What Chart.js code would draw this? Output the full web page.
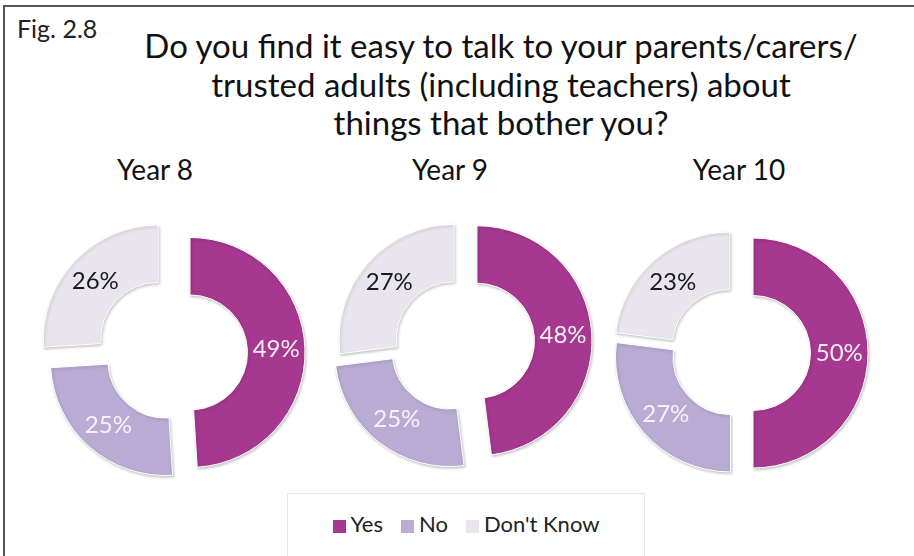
<!DOCTYPE html>
<html>
<head>
<meta charset="utf-8">
<script src="https://cdn.jsdelivr.net/npm/chart.js@4.4.1/dist/chart.umd.min.js"></script>
<style>
  html, body { margin: 0; padding: 0; background: #fff; }
  #page { position: relative; width: 914px; height: 556px; overflow: hidden;
          font-family: Lato, "Open Sans", sans-serif; color: #111; }
  #frame { position: absolute; left: 3px; top: 5px; width: 940px; height: 600px;
           border-left: 2px solid #555; border-top: 2px solid #555; }
  #fig { position: absolute; left: 17px; top: 13px; font-size: 25px; color: #222; }
  #title { position: absolute; left: 51px; width: 900px; top: 26px; text-align: center;
           font-size: 33px; line-height: 38.5px; }
  .year { position: absolute; top: 152px; width: 200px; text-align: center; font-size: 28px; }
  .donut { position: absolute; width: 300px; height: 300px; }
  #legend { position: absolute; left: 287px; top: 493px; width: 358px; height: 80px;
            border: 1px solid #e6e6e6; box-sizing: border-box; }
  #legend .items { position: absolute; left: 0; right: 0; top: 16px; text-align: center;
                   font-size: 22px; color: #222; white-space: nowrap; }
  #legend .item { display: inline-block; margin: 0 9px; }
  #legend .sw { display: inline-block; width: 13px; height: 13px; margin-right: 5px; vertical-align: -1px; }
</style>
</head>
<body>
<div id="page">
  <div id="frame"></div>
  <div id="fig">Fig. 2.8</div>
  <div id="title">Do you find it easy to talk to your parents/carers/<br>trusted adults (including teachers) about<br>things that bother you?</div>
  <div id="legend"><div class="items" id="legendItems"></div></div>
</div>
<script>
// Answer categories, in drawing order (clockwise from 12 o'clock)
const categories = ['Yes', 'No', "Don't Know"];
const colors = ['#A6388F', '#B9ABD3', '#E9E5EF'];
const labelColors = ['#F6EEF5', '#F6F2FA', '#1A1A1A'];

// Percentages per school year
const groups = ['Year 8', 'Year 9', 'Year 10'];
const year8 = [49, 25, 26];
const year9 = [48, 25, 27];
const year10 = [50, 27, 23];
const seriesValues = [year8, year9, year10];

// Layout of each exploded donut: centre and how far each slice is pulled out
const centres = [[172, 353], [457, 342], [735, 353]];
const pullOut = [[18, 10, 19], [20, 12, 4], [18, 6, 8]];
const yearLabelX = [155, 450, 739];

const page = document.getElementById('page');

// Slide each slice outwards along its mid-angle
function explodePlugin(dist) {
  return {
    id: 'explode',
    afterDatasetsUpdate(chart) {
      chart.getDatasetMeta(0).data.forEach((arc, i) => {
        const mid = (arc.startAngle + arc.endAngle) / 2;
        arc.x += Math.cos(mid) * dist[i];
        arc.y += Math.sin(mid) * dist[i];
      });
    }
  };
}

// Soft drop shadow under the slices
const sliceShadow = {
  id: 'sliceShadow',
  beforeDatasetDraw(chart) {
    const c = chart.ctx;
    c.save();
    c.shadowColor = 'rgba(0,0,0,0.22)';
    c.shadowBlur = 3;
    c.shadowOffsetX = 1;
    c.shadowOffsetY = 1.5;
  },
  afterDatasetDraw(chart) { chart.ctx.restore(); }
};

// Percentage written in the middle of each slice
const pctLabels = {
  id: 'pctLabels',
  afterDatasetsDraw(chart) {
    const c = chart.ctx;
    const ds = chart.data.datasets[0];
    c.save();
    c.font = '24px Lato, "Open Sans", sans-serif';
    c.textAlign = 'center';
    c.textBaseline = 'middle';
    chart.getDatasetMeta(0).data.forEach((arc, i) => {
      const p = arc.getProps(['x', 'y', 'startAngle', 'endAngle', 'innerRadius', 'outerRadius'], true);
      const mid = (p.startAngle + p.endAngle) / 2;
      const rr = (p.innerRadius + p.outerRadius) / 2;
      c.fillStyle = labelColors[i];
      c.fillText(ds.data[i] + '%', p.x + Math.cos(mid) * rr, p.y + Math.sin(mid) * rr);
    });
    c.restore();
  }
};

groups.forEach((name, g) => {
  const lab = document.createElement('div');
  lab.className = 'year';
  lab.textContent = name;
  lab.style.left = (yearLabelX[g] - 100) + 'px';
  page.appendChild(lab);

  const canvas = document.createElement('canvas');
  canvas.className = 'donut';
  canvas.width = 300;
  canvas.height = 300;
  canvas.style.left = (centres[g][0] - 150) + 'px';
  canvas.style.top = (centres[g][1] - 150) + 'px';
  page.appendChild(canvas);

  new Chart(canvas, {
    type: 'doughnut',
    data: {
      labels: categories,
      datasets: [{
        data: seriesValues[g],
        backgroundColor: colors,
        borderColor: '#ffffff',
        borderWidth: 1,
        hoverOffset: 0
      }]
    },
    options: {
      responsive: false,
      animation: false,
      radius: 115,
      cutout: '50%',
      layout: { padding: 0 },
      plugins: { legend: { display: false }, tooltip: { enabled: false } }
    },
    plugins: [explodePlugin(pullOut[g]), sliceShadow, pctLabels]
  });
});

// Legend row
const items = document.getElementById('legendItems');
categories.forEach((name, i) => {
  const it = document.createElement('span');
  it.className = 'item';
  const sw = document.createElement('span');
  sw.className = 'sw';
  sw.style.background = colors[i];
  it.appendChild(sw);
  it.appendChild(document.createTextNode(name));
  items.appendChild(it);
});
</script>
</body>
</html>
